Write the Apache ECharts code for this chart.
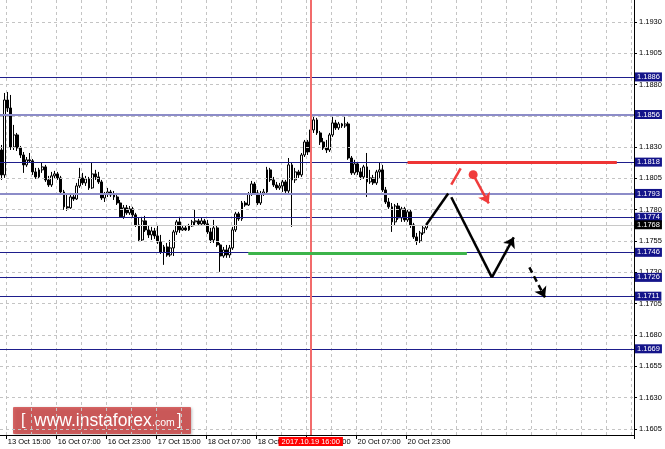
<!DOCTYPE html>
<html><head><meta charset="utf-8">
<script src="https://cdn.jsdelivr.net/npm/echarts@6/dist/echarts.min.js"></script>
<style>html,body{margin:0;padding:0;background:#fff}#c{width:665px;height:449px}</style>
</head><body><div id="c"></div>
<script>
// ---------------- data ----------------
const firstBarUTC = [2017, 9, 13, 13];   // 13 Oct 2017 13:00, H1 bars
const totalBars = 203;                    // bars covered by the visible window
// [open, close, low, high]
const candles = [
[1.18277,1.18078,1.18038,1.18317],[1.18078,1.18676,1.18054,1.18732],[1.18676,1.18612,1.18580,1.18740],[1.18612,1.18301,1.18277,1.18716],
[1.18301,1.18397,1.18277,1.18477],[1.18397,1.18293,1.18269,1.18413],[1.18293,1.18237,1.18213,1.18309],[1.18237,1.18158,1.18094,1.18261],
[1.18158,1.18198,1.18142,1.18221],[1.18198,1.18190,1.18174,1.18253],[1.18190,1.18102,1.18078,1.18205],[1.18102,1.18062,1.18046,1.18134],
[1.18062,1.18118,1.18046,1.18134],[1.18118,1.18142,1.18094,1.18174],[1.18142,1.18038,1.18022,1.18158],[1.18038,1.17998,1.17982,1.18070],
[1.17998,1.18070,1.17982,1.18102],[1.18070,1.18086,1.18046,1.18110],[1.18086,1.18054,1.18038,1.18102],[1.18054,1.17942,1.17926,1.18070],
[1.17942,1.17823,1.17799,1.17958],[1.17823,1.17815,1.17791,1.17918],[1.17815,1.17902,1.17807,1.17934],[1.17902,1.17886,1.17870,1.17918],
[1.17886,1.17990,1.17878,1.18014],[1.17990,1.18054,1.17974,1.18134],[1.18054,1.18014,1.17998,1.18094],[1.18014,1.18046,1.17990,1.18070],
[1.18046,1.17974,1.17958,1.18062],[1.17974,1.18086,1.17966,1.18174],[1.18086,1.18062,1.18038,1.18118],[1.18062,1.18022,1.18006,1.18102],
[1.18022,1.17894,1.17878,1.18038],[1.17894,1.17926,1.17862,1.17942],[1.17926,1.17942,1.17902,1.17974],[1.17942,1.17918,1.17902,1.17958],
[1.17918,1.17902,1.17878,1.17950],[1.17902,1.17854,1.17838,1.17934],[1.17854,1.17743,1.17735,1.17878],[1.17743,1.17815,1.17727,1.17838],
[1.17815,1.17775,1.17759,1.17838],[1.17775,1.17807,1.17759,1.17830],[1.17807,1.17759,1.17743,1.17823],[1.17759,1.17679,1.17663,1.17775],
[1.17679,1.17559,1.17543,1.17735],[1.17559,1.17711,1.17551,1.17743],[1.17711,1.17639,1.17623,1.17751],[1.17639,1.17599,1.17575,1.17671],
[1.17599,1.17631,1.17559,1.17663],[1.17631,1.17591,1.17567,1.17655],[1.17591,1.17543,1.17527,1.17679],[1.17543,1.17463,1.17447,1.17599],
[1.17463,1.17503,1.17360,1.17519],[1.17503,1.17439,1.17424,1.17535],[1.17439,1.17495,1.17424,1.17559],[1.17495,1.17623,1.17431,1.17639],
[1.17623,1.17703,1.17599,1.17719],[1.17703,1.17639,1.17615,1.17743],[1.17639,1.17655,1.17631,1.17671],[1.17655,1.17639,1.17631,1.17671],
[1.17639,1.17671,1.17631,1.17687],[1.17671,1.17703,1.17663,1.17719],[1.17703,1.17711,1.17671,1.17799],[1.17711,1.17687,1.17671,1.17727],
[1.17687,1.17711,1.17679,1.17735],[1.17711,1.17687,1.17671,1.17727],[1.17687,1.17623,1.17607,1.17719],[1.17623,1.17559,1.17535,1.17655],
[1.17559,1.17655,1.17535,1.17719],[1.17655,1.17519,1.17503,1.17671],[1.17519,1.17431,1.17304,1.17535],[1.17431,1.17479,1.17416,1.17503],
[1.17479,1.17439,1.17416,1.17519],[1.17439,1.17495,1.17416,1.17519],[1.17495,1.17639,1.17479,1.17663],[1.17639,1.17767,1.17623,1.17783],
[1.17767,1.17727,1.17711,1.17783],[1.17727,1.17854,1.17711,1.17870],[1.17854,1.17838,1.17823,1.17870],[1.17838,1.17926,1.17830,1.17942],
[1.17926,1.18006,1.17910,1.18030],[1.18006,1.17934,1.17918,1.18022],[1.17934,1.17854,1.17838,1.17958],[1.17854,1.17926,1.17838,1.17950],
[1.17926,1.17942,1.17910,1.17966],[1.17942,1.18118,1.17926,1.18142],[1.18118,1.18038,1.18022,1.18134],[1.18038,1.17998,1.17982,1.18062],
[1.17998,1.17974,1.17958,1.18022],[1.17974,1.17990,1.17958,1.18014],[1.17990,1.18022,1.17942,1.18038],[1.18022,1.17950,1.17934,1.18038],
[1.17950,1.18158,1.17934,1.18213],[1.18158,1.18038,1.17663,1.18174],[1.18038,1.18102,1.18014,1.18134],[1.18102,1.18078,1.18054,1.18118],
[1.18078,1.18237,1.18062,1.18253],[1.18237,1.18341,1.18221,1.18357],[1.18341,1.18261,1.18237,1.18357],[1.18261,1.18437,1.18245,1.18453],
[1.18437,1.18517,1.18413,1.18541],[1.18517,1.18413,1.18397,1.18533],[1.18413,1.18341,1.18317,1.18429],[1.18341,1.18293,1.18277,1.18373],
[1.18293,1.18277,1.18253,1.18357],[1.18277,1.18397,1.18261,1.18413],[1.18397,1.18493,1.18381,1.18557],[1.18493,1.18453,1.18437,1.18517],
[1.18453,1.18485,1.18437,1.18501],[1.18485,1.18469,1.18453,1.18493],[1.18469,1.18485,1.18453,1.18557],[1.18485,1.18213,1.18198,1.18501],
[1.18213,1.18094,1.18078,1.18229],[1.18094,1.18166,1.18078,1.18198],[1.18166,1.18102,1.18078,1.18182],[1.18102,1.18062,1.18038,1.18134],
[1.18062,1.18142,1.18046,1.18158],[1.18142,1.18022,1.17902,1.18253],[1.18022,1.18054,1.18006,1.18118],[1.18054,1.18014,1.17998,1.18078],
[1.18014,1.18102,1.17998,1.18118],[1.18102,1.18118,1.18054,1.18174],[1.18118,1.17958,1.17942,1.18158],[1.17958,1.17862,1.17846,1.17982],
[1.17862,1.17823,1.17807,1.17894],[1.17823,1.17703,1.17623,1.17854],[1.17703,1.17830,1.17671,1.17846],[1.17830,1.17735,1.17719,1.17854],
[1.17735,1.17807,1.17703,1.17823],[1.17807,1.17719,1.17703,1.17823],[1.17719,1.17783,1.17703,1.17799],[1.17783,1.17679,1.17655,1.17799],
[1.17679,1.17583,1.17567,1.17695],[1.17583,1.17551,1.17519,1.17615],[1.17551,1.17615,1.17535,1.17631],[1.17615,1.17655,1.17599,1.17671],
[1.17655,1.17679,1.17639,1.17695]
];
const xTickLabels = ['13 Oct 15:00','16 Oct 07:00','16 Oct 23:00','17 Oct 15:00','18 Oct 07:00','18 Oct 23:00','19 Oct 15:00','20 Oct 07:00','20 Oct 23:00'];
const yTickValues = [1.1605,1.1630,1.1655,1.1680,1.1705,1.1730,1.1755,1.1780,1.1805,1.1830,1.1855,1.1880,1.1905,1.1930];
const yRange = [1.16002, 1.19474];
const levels = [1.1886,1.1856,1.1818,1.1793,1.1774,1.1746,1.1726,1.1711,1.1669];
const softLevels = [1.1856,1.1793];
const lastPrice = 1.1768;
const markerLabel = '2017.10.19 16:00';
const markerBar = '19 Oct 16:00';
// annotations: [barIndex, price]
const resistance = [[130,1.1818],[197,1.1818]];
const support = [[79,1.1745],[149,1.1745]];
const pathRise = [[136,1.1768],[143,1.1793]];
const pathDrop = [[144,1.1790],[157,1.1726]];
const pathRebound = [[157,1.1726],[164,1.1758]];
const pathBreak = [[169,1.1734],[174,1.1710]];
const redSlash = [[144,1.1800],[147,1.1813]];
const redDot = [151,1.1808];
const redArrow = [[151,1.1808],[156,1.1785]];

// ---------------- categories (hourly, weekend skipped) ----------------
const MONTHS = ['Jan','Feb','Mar','Apr','May','Jun','Jul','Aug','Sep','Oct','Nov','Dec'];
const categories = [];
let t = Date.UTC(firstBarUTC[0], firstBarUTC[1], firstBarUTC[2], firstBarUTC[3]);
while (categories.length < totalBars) {
  const d = new Date(t);
  const wd = d.getUTCDay();
  if (wd !== 0 && wd !== 6) {
    const hh = String(d.getUTCHours()).padStart(2,'0');
    categories.push(d.getUTCDate() + ' ' + MONTHS[d.getUTCMonth()] + ' ' + hh + ':00');
  }
  t += 3600000;
}
const firstTickIdx = categories.indexOf(xTickLabels[0]);
const markerIdx = categories.indexOf(markerBar);

const FONT = 'Liberation Sans';
const seg = (pts, color, width, arrow, type) => [
  {coord: pts[0], symbol: 'none', lineStyle: {color, width, type: type || 'solid'}},
  {coord: pts[1], symbol: arrow ? 'arrow' : 'none', symbolSize: arrow ? 10 : 0}
];

const chart = echarts.init(document.getElementById('c'), null, {renderer: 'canvas'});
chart.setOption({
  animation: false,
  backgroundColor: '#ffffff',
  grid: {left: 0, right: 31, top: 0, bottom: 14, containLabel: false},
  xAxis: {
    type: 'category', data: categories, boundaryGap: true,
    axisLine: {show: true, lineStyle: {color: '#000', width: 1}},
    axisTick: {show: true, length: 4, interval: (i, v) => xTickLabels.includes(v), lineStyle: {color: '#000'}},
    axisLabel: {interval: (i, v) => xTickLabels.includes(v), align: 'left', fontSize: 7.5, fontFamily: FONT, color: '#000', margin: 3},
    splitLine: {show: true, interval: (i) => i >= firstTickIdx && (i - firstTickIdx) % 8 === 0,
      lineStyle: {color: '#c4c4c4', type: [3,3], width: 1}}
  },
  yAxis: {
    type: 'value', position: 'right', min: yRange[0], max: yRange[1], scale: true,
    axisLine: {show: true, lineStyle: {color: '#000', width: 1}},
    axisTick: {show: true, length: 3, customValues: yTickValues, lineStyle: {color: '#000'}},
    axisLabel: {customValues: yTickValues, formatter: v => v.toFixed(4), fontSize: 7.5, fontFamily: FONT, color: '#000', margin: 5},
    splitLine: {show: false}
  },
  series: [
    { // horizontal grid
      type: 'line', data: [], z: 1, silent: true,
      markLine: {silent: true, symbol: 'none', animation: false, precision: 5,
        lineStyle: {color: '#c4c4c4', type: [3,3], width: 1}, label: {show: false},
        data: yTickValues.map(v => ({yAxis: v}))}
    },
    { // levels
      type: 'line', data: [], z: 2, silent: true,
      markLine: {silent: true, symbol: 'none', animation: false, precision: 5,
        label: {show: true, position: 'end', distance: 1, formatter: p => Number(p.value).toFixed(4),
          backgroundColor: '#14148a', color: '#fff', fontSize: 7.5, fontFamily: FONT, padding: [1,2,0,2]},
        data: levels.map(v => ({yAxis: v, lineStyle: softLevels.includes(v)
            ? {color: '#8c8cc8', width: 2, type: 'solid'} : {color: '#1e1e8c', width: 1, type: 'solid'}}))
          .concat([{yAxis: lastPrice, lineStyle: {color: '#c8c8c8', width: 1, type: 'solid'},
            label: {backgroundColor: '#000', color: '#fff'}}])
      }
    },
    { // time marker
      type: 'line', data: [], z: 2, silent: true,
      markLine: {silent: true, symbol: 'none', animation: false, precision: 5,
        lineStyle: {color: '#f26b6b', width: 2, type: 'solid', opacity: 1},
        label: {show: true, position: 'start', distance: 2, formatter: markerLabel, backgroundColor: '#ff0000',
          color: '#fff', fontSize: 7.5, fontFamily: FONT, padding: [1,3,0,3]},
        data: [{xAxis: categories[markerIdx]}]
      }
    },
    {
      type: 'candlestick', data: candles, z: 3, barWidth: 2.4,
      itemStyle: {color: '#ffffff', color0: '#000000', borderColor: '#000000', borderColor0: '#000000', borderWidth: 1}
    },
    { // annotations
      type: 'line', data: [], z: 5, silent: true,
      markLine: {silent: true, animation: false, precision: 5, label: {show: false}, symbol: 'none',
        data: [
          seg(resistance, '#ee3535', 3, false),
          seg(support, '#3cb44a', 3, false),
          seg(pathRise, '#000', 2.5, false),
          seg(pathDrop, '#000', 2.5, false),
          seg(pathRebound, '#000', 2.5, true),
          seg(pathBreak, '#000', 2.5, true, [6,4]),
          seg(redSlash, '#f03c3c', 2.5, false),
          seg(redArrow, '#f03c3c', 2.5, true)
        ]},
      markPoint: {silent: true, animation: false, symbol: 'circle', symbolSize: 9, label: {show: false},
        itemStyle: {color: '#f03c3c'}, data: [{coord: redDot}]}
    }
  ],
  graphic: [{
    type: 'group', left: 13, top: 407, silent: true,
    children: [
      {type: 'rect', shape: {x: 0, y: 0, width: 178, height: 27, r: 1},
       style: {fill: 'rgba(205,55,55,0.75)', shadowBlur: 3, shadowColor: 'rgba(0,0,0,0.35)', shadowOffsetX: 1, shadowOffsetY: 1}},
      {type: 'text', x: 8, y: 14, style: {text: '[', fill: '#fff', fontSize: 16, fontFamily: FONT, verticalAlign: 'middle'}},
      {type: 'text', x: 21, y: 14, style: {text: 'www.instaforex', fill: '#fff', fontSize: 17.5, fontFamily: FONT, verticalAlign: 'middle'}},
      {type: 'text', x: 139, y: 16, style: {text: '.com', fill: '#fff', fontSize: 10.5, fontFamily: FONT, verticalAlign: 'middle'}},
      {type: 'text', x: 164, y: 14, style: {text: ']', fill: '#fff', fontSize: 16, fontFamily: FONT, verticalAlign: 'middle'}}
    ]
  }]
});
</script>
</body></html>
